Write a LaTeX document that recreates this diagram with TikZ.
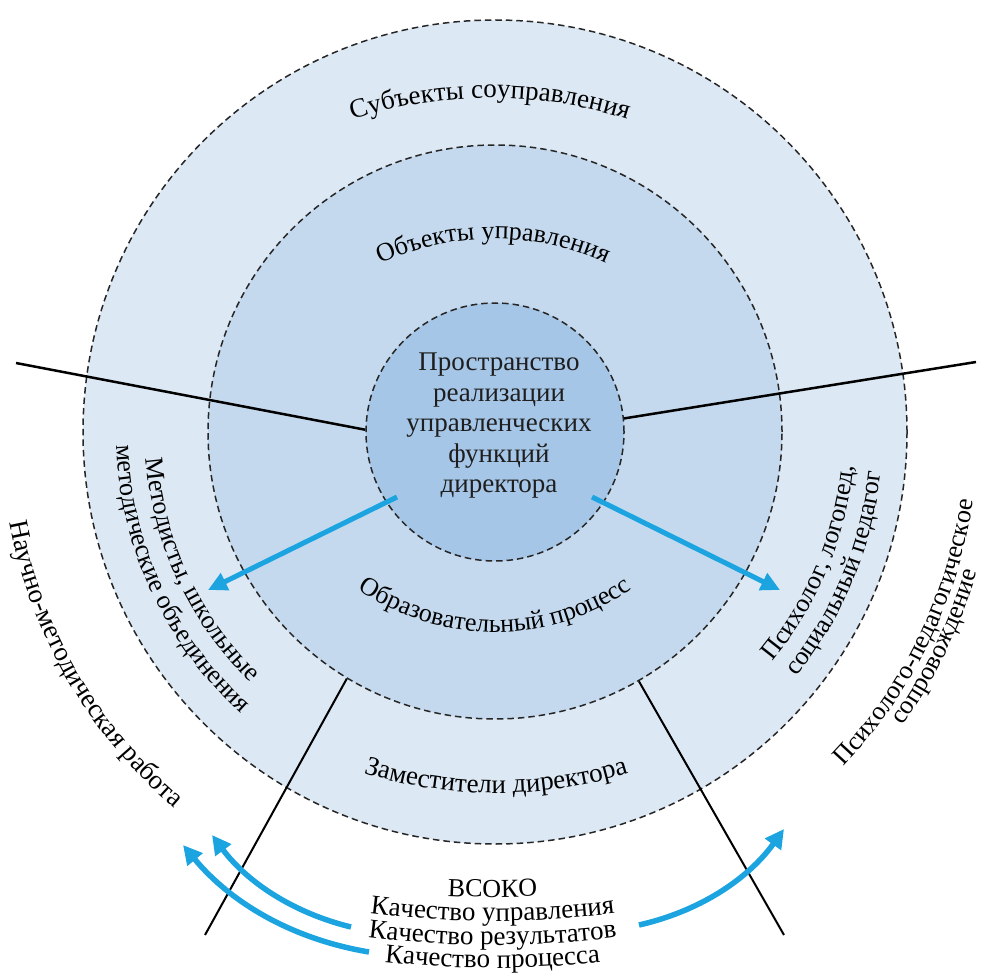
\documentclass[tikz,border=0pt]{standalone}
\usepackage{fontspec}
\setmainfont{Liberation Serif}
\usetikzlibrary{decorations.text,arrows.meta}
\definecolor{outerfill}{RGB}{220,232,244}
\definecolor{midfill}{RGB}{196,217,238}
\definecolor{innerfill}{RGB}{166,198,231}
\definecolor{arrowblue}{RGB}{28,164,224}
\definecolor{txt}{RGB}{30,30,30}
\newcommand\szA{\fontsize{27}{30.5}\selectfont}
\newcommand\szB{\fontsize{26}{30}\selectfont}
\begin{document}
\begin{tikzpicture}[x=1pt,y=-1pt,
  ring/.style={circle, draw=black!85, dash pattern=on 6.5pt off 4pt, line width=1.5pt, inner sep=0pt},
  divline/.style={draw=black, line width=#1},
  barrow/.style={draw=arrowblue, line width=5pt, -{Triangle[length=19pt,width=18pt]}},
  carrow/.style={draw=arrowblue, line width=5.5pt, -{Triangle[length=19pt,width=19pt]}},
  arctext/.style={decorate, decoration={text along path, text align=center, text={#1}}}]
\useasboundingbox (0,0) rectangle (984,973);
\coordinate (C) at (495,432);
\node[ring, fill=outerfill, minimum size=824pt] (outer) at (C) {};
\node[ring, fill=midfill, minimum size=574pt] (middle) at (C) {};
\node[ring, fill=innerfill, minimum size=258pt] (inner) at (C) {};

% dividing lines
\coordinate (ulE) at (16,363);
\coordinate (urE) at (976,362);
\coordinate (llE) at (205,935);
\coordinate (lrE) at (784,935);
\draw[divline=2.5pt] (inner.179) -- (ulE);
\draw[divline=2.5pt] (inner.6) -- (urE);
\draw[divline=2pt] (middle.-121) -- (llE);
\draw[divline=2pt] (middle.-60) -- (lrE);

% centre text
\node[align=center, font=\szA, text=txt, inner sep=0pt] (core) at (499,426)
  {Пространство\\реализации\\управленческих\\функций\\директора};

% ring labels
\path[arctext={|\szA|Субъекты соуправления}] (490,548) ++(250:450) arc[start angle=250, end angle=290, radius=450];
\path[arctext={|\szB|Объекты управления}] (493,509) ++(235:270) arc[start angle=235, end angle=305, radius=270];
\path[arctext={|\szB|Образовательный процесс}] (495,392) ++(140:240) arc[start angle=140, end angle=40, radius=240];
\path[arctext={|\szA|Заместители директора}] (496,341) ++(110:452) arc[start angle=110, end angle=70, radius=452];

% left side
\path[arctext={|\szB|Методисты, школьные}] (C) ++(195:350) arc[start angle=195, end angle=115, radius=350];
\path[arctext={|\szB|методические объединения}] (C) ++(195:379) arc[start angle=195, end angle=115, radius=379];
\path[arctext={|\szA|Научно-методическая работа}] (C) ++(195:494) arc[start angle=195, end angle=105, radius=494];

% right side
\path[arctext={|\szB|Психолог, логопед,}] (C) ++(62:360) arc[start angle=62, end angle=-17, radius=360];
\path[arctext={|\szB|социальный педагог}] (C) ++(62:388) arc[start angle=62, end angle=-17, radius=388];
\path[arctext={|\szB|Психолого-педагогическое}] (C) ++(66:483) arc[start angle=66, end angle=-14, radius=483];
\path[arctext={|\szB|сопровождение}] (C) ++(66:502) arc[start angle=66, end angle=-14, radius=502];

% bottom block
\path[arctext={|\szB|ВСОКО}] (492.5,-103) ++(100:1000) arc[start angle=100, end angle=80, radius=1000];
\path[arctext={|\szA|Качество управления}] (492.5,-79) ++(100:1000) arc[start angle=100, end angle=80, radius=1000];
\path[arctext={|\szA|Качество результатов}] (492.5,-55) ++(100:1000) arc[start angle=100, end angle=80, radius=1000];
\path[arctext={|\szA|Качество процесса}] (492.5,-32) ++(100:1000) arc[start angle=100, end angle=80, radius=1000];

% straight blue arrows
\coordinate (aLs) at (397,497);
\coordinate (aLe) at (208,590);
\coordinate (aRs) at (592,497);
\coordinate (aRe) at (780,590);
\draw[barrow] (aLs) -- (aLe);
\draw[barrow] (aRs) -- (aRe);

% curved blue arrows
\coordinate (cAs) at (369,952);
\coordinate (cAe) at (183,845);
\coordinate (cBs) at (351,927);
\coordinate (cBe) at (212,835);
\coordinate (cCs) at (639,925);
\coordinate (cCe) at (784,829);
\draw[carrow] (cAs) .. controls (293.7,939.4) and (231.7,903.8) .. (cAe);
\draw[carrow] (cBs) .. controls (293.7,913) and (247.3,882.4) .. (cBe);
\draw[carrow] (cCs) .. controls (699.4,911.3) and (747.8,879.3) .. (cCe);
\end{tikzpicture}
\end{document}
